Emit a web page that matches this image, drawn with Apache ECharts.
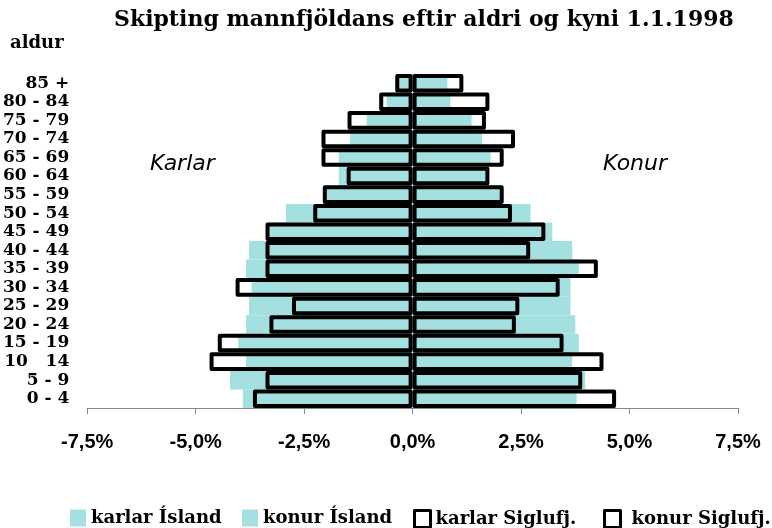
<!DOCTYPE html>
<html>
<head>
<meta charset="utf-8">
<script src="https://cdn.jsdelivr.net/npm/echarts@6/dist/echarts.min.js"></script>
<style>
  html, body { margin: 0; padding: 0; background: #fff; }
  #chart { width: 772px; height: 528px; }
</style>
</head>
<body>
<div id="chart"></div>
<script>
// aldur, frá efstu röð niður
const ages = ['85 +', '80 - 84', '75 - 79', '70 - 74', '65 - 69', '60 - 64', '55 - 59', '50 - 54', '45 - 49',
  '40 - 44', '35 - 39', '30 - 34', '25 - 29', '20 - 24', '15 - 19', '10   14', '5 - 9', '0 - 4'];

// hlutfall af mannfjölda (%), karlar neikvæðir
const karlarIsland = [-0.38, -0.60, -1.06, -1.44, -1.70, -1.70, -2.00, -2.92, -3.35,
  -3.77, -3.84, -3.71, -3.77, -3.84, -4.02, -3.84, -4.21, -3.91];
const konurIsland = [0.80, 0.87, 1.36, 1.60, 1.80, 1.74, 2.05, 2.72, 3.22,
  3.68, 3.83, 3.64, 3.64, 3.75, 3.83, 3.68, 3.98, 3.78];
const karlarSiglufj = [-0.40, -0.77, -1.50, -2.10, -2.10, -1.52, -2.07, -2.29, -3.39,
  -3.39, -3.39, -4.08, -2.78, -3.30, -4.49, -4.68, -3.39, -3.68];
const konurSiglufj = [1.17, 1.77, 1.69, 2.36, 2.10, 1.77, 2.10, 2.29, 3.06,
  2.71, 4.27, 3.39, 2.46, 2.38, 3.48, 4.40, 3.91, 4.69];

const cyan = '#a4e0e0';
const serif = '"DejaVu Serif", serif';
const sans = '"Liberation Sans", Arial, sans-serif';

const chart = echarts.init(document.getElementById('chart'));

const filled = (name, data) => ({
  name, type: 'bar', data,
  barWidth: '100%', barGap: '-100%', barCategoryGap: '0%',
  itemStyle: { color: cyan },
  silent: true
});
const outlined = (name, data) => ({
  name, type: 'bar', data,
  barWidth: '100%', barGap: '-100%', barCategoryGap: '0%',
  itemStyle: { color: 'rgba(0,0,0,0)', borderColor: '#000', borderWidth: 4, borderJoin: 'round' },
  silent: true
});

// eitt legend fyrir hverja röð, til að staðsetja eins og í frumritinu
const legendAt = (left, item, pad) => ({
  left, top: 509, padding: 0,
  itemWidth: 16, itemHeight: 17,
  textStyle: { fontFamily: serif, fontWeight: 'bold', fontSize: 18, color: '#000', padding: [0, 0, 4, pad || 0] },
  data: [item]
});
const fillIcon = { color: cyan, borderWidth: 0 };
const boxIcon = { color: '#fff', borderColor: '#000', borderWidth: 3 };

chart.setOption({
  animation: false,
  title: {
    text: 'Skipting mannfjöldans eftir aldri og kyni 1.1.1998',
    left: 114, top: 9, padding: 0,
    textStyle: { fontFamily: serif, fontWeight: 'bold', fontSize: 22, color: '#000' }
  },
  graphic: [
    { type: 'text', left: 10, top: 34, style: { text: 'aldur', font: 'bold 18px ' + serif, fill: '#000' } },
    { type: 'text', left: 150, top: 153, style: { text: 'Karlar', font: 'italic 22px "DejaVu Sans", sans-serif', fill: '#000' } },
    { type: 'text', left: 603, top: 153, style: { text: 'Konur', font: 'italic 22px "DejaVu Sans", sans-serif', fill: '#000' } }
  ],
  legend: [
    legendAt(70, { name: 'karlar Ísland', icon: 'rect', itemStyle: fillIcon }),
    legendAt(242, { name: 'konur Ísland', icon: 'rect', itemStyle: fillIcon }),
    legendAt(413, { name: 'karlar Siglufj.', icon: 'rect', itemStyle: boxIcon }),
    legendAt(603, { name: 'konur Siglufj.', icon: 'rect', itemStyle: boxIcon }, 6)
  ],
  grid: { left: 86, right: 34, top: 74, bottom: 120, containLabel: false },
  xAxis: {
    type: 'value', min: -7.5, max: 7.5, interval: 2.5,
    splitLine: { show: false },
    axisLine: { show: true, lineStyle: { color: '#888', width: 1 } },
    axisTick: { show: true, length: 6, lineStyle: { color: '#888' } },
    axisLabel: {
      margin: 24, fontFamily: sans, fontWeight: 'bold', fontSize: 20, color: '#000',
      formatter: v => v.toFixed(1).replace('.', ',') + '%'
    }
  },
  yAxis: {
    type: 'category', data: ages, inverse: true,
    axisLine: { show: false }, axisTick: { show: false },
    axisLabel: { interval: 0, margin: 18, fontFamily: serif, fontWeight: 'bold', fontSize: 17, color: '#000' }
  },
  series: [
    filled('karlar Ísland', karlarIsland),
    filled('konur Ísland', konurIsland),
    outlined('karlar Siglufj.', karlarSiglufj),
    outlined('konur Siglufj.', konurSiglufj)
  ]
});
</script>
</body>
</html>
